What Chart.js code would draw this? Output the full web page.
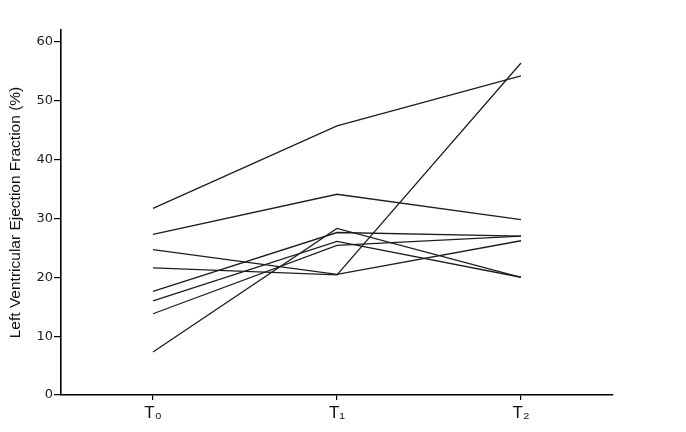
<!DOCTYPE html>
<html>
<head>
<meta charset="utf-8">
<script src="https://cdn.jsdelivr.net/npm/chart.js@4.4.0/dist/chart.umd.min.js"></script>
<style>
html,body{margin:0;padding:0;background:#fff;}
#wrap{width:686px;height:432px;position:relative;}
</style>
</head>
<body>
<div id="wrap"><canvas id="c" width="686" height="432"></canvas></div>
<script>
const categories = ['T₀', 'T₁', 'T₂'];
const patient1 = [31.7, 45.7, 54.2];
const patient2 = [27.3, 34.1, 29.8];
const patient3 = [24.7, 20.5, 26.2];
const patient4 = [21.6, 20.4, 56.4];
const patient5 = [17.6, 27.6, 27.0];
const patient6 = [16.0, 26.1, 20.0];
const patient7 = [13.8, 25.4, 27.0];
const patient8 = [7.3, 28.3, 20.0];
const yTicks = [0, 10, 20, 30, 40, 50, 60];
const yTitle = 'Left Ventricular Ejection Fraction (%)';

const series = [patient1, patient2, patient3, patient4, patient5, patient6, patient7, patient8];

new Chart(document.getElementById('c'), {
  type: 'line',
  data: {
    labels: categories,
    datasets: series.map((s, i) => ({
      label: 'P' + (i + 1),
      data: s,
      borderColor: '#1e1e1e',
      borderWidth: 1.3,
      pointRadius: 0,
      tension: 0,
      fill: false
    }))
  },
  options: {
    responsive: false,
    animation: false,
    devicePixelRatio: 1,
    layout: { padding: { top: 30, right: 73, left: 0, bottom: 0 } },
    plugins: { legend: { display: false }, tooltip: { enabled: false } },
    scales: {
      x: {
        type: 'category',
        offset: true,
        grid: { offset: false, drawOnChartArea: false, drawTicks: true, tickLength: 5, color: '#000', lineWidth: 1.2 },
        border: { display: true, color: '#000', width: 1.6 },
        ticks: { color: '#111', font: { family: 'Liberation Sans', size: 17 }, padding: 3 },
        afterFit: (s) => { s.height = 37; }
      },
      y: {
        min: 0,
        max: 62,
        grid: { drawOnChartArea: false, drawTicks: true, tickLength: 7, color: '#000', lineWidth: 1.2 },
        border: { display: true, color: '#000', width: 1.6 },
        ticks: { stepSize: 10, color: '#222', font: { family: 'DejaVu Sans', size: 13 }, padding: 1 },
        afterBuildTicks: (s) => { s.ticks = yTicks.map(v => ({ value: v })); },
        title: { display: true, text: yTitle, color: '#111', font: { family: 'Liberation Sans', size: 15.5 }, padding: { top: 6, bottom: 0 } },
        afterFit: (s) => { s.width = 61; }
      }
    }
  }
});
</script>
</body>
</html>
